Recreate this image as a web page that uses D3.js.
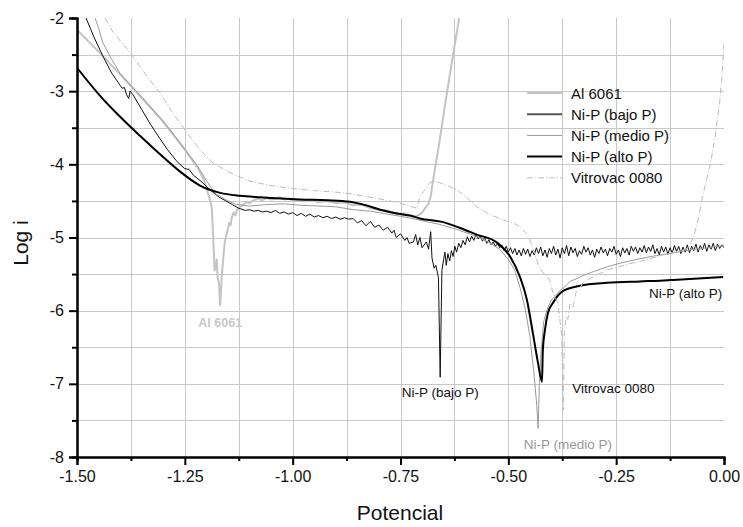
<!DOCTYPE html>
<html>
<head>
<meta charset="utf-8">
<script src="https://cdn.jsdelivr.net/npm/d3@7"></script>
<style>
  body { margin: 0; background: #fff; }
  svg text { font-family: "Liberation Sans", Arial, sans-serif; }
</style>
</head>
<body>
<div id="chart"></div>
<script>
// ---- data (Potencial, Log i) ----
var xTicks = [-1.50, -1.25, -1.00, -0.75, -0.50, -0.25, 0.00];
var yTicks = [-8, -7, -6, -5, -4, -3, -2];
var seriesNames = ["Al 6061", "Ni-P (bajo P)", "Ni-P (medio P)", "Ni-P (alto P)", "Vitrovac 0080"];

var al6061 = [[-1.500,-2.16],[-1.45,-2.46],[-1.40,-2.77],[-1.35,-3.09],[-1.30,-3.42],[-1.25,-3.80],
  [-1.22,-4.05],[-1.205,-4.22],[-1.196,-4.40],[-1.190,-4.52],[-1.187,-4.62],[-1.185,-4.90],[-1.181,-5.45],
  [-1.178,-5.40],[-1.176,-5.30],[-1.174,-5.55],[-1.171,-5.62],[-1.168,-5.93],[-1.164,-5.50],[-1.160,-5.22],
  [-1.157,-5.05],[-1.153,-4.95],[-1.150,-4.88],[-1.147,-4.80],[-1.144,-4.83],[-1.141,-4.72],[-1.137,-4.66],
  [-1.133,-4.70],[-1.129,-4.62],[-1.122,-4.58],[-1.115,-4.55],[-1.108,-4.52],[-1.10,-4.53],[-1.09,-4.49],
  [-1.08,-4.47],[-1.07,-4.49],[-1.06,-4.46],[-1.05,-4.48],[-1.04,-4.47],[-1.03,-4.45],[-1.02,-4.48],
  [-1.01,-4.47],[-1.00,-4.49],[-0.98,-4.50],[-0.96,-4.48],[-0.94,-4.52],[-0.92,-4.50],[-0.90,-4.53],
  [-0.88,-4.52],[-0.86,-4.56],[-0.84,-4.55],[-0.82,-4.60],[-0.80,-4.62],[-0.78,-4.63],[-0.76,-4.68],
  [-0.74,-4.67],[-0.72,-4.72],[-0.71,-4.70],[-0.70,-4.66],[-0.693,-4.60],[-0.685,-4.54],[-0.680,-4.44],
  [-0.675,-4.24],[-0.66,-3.70],[-0.642,-3.01],[-0.628,-2.50],[-0.614,-2.0]];

var bajoP = [[-1.479,-2.0],[-1.46,-2.27],[-1.44,-2.52],[-1.42,-2.75],[-1.40,-2.92],[-1.395,-2.96],
  [-1.39,-2.95],[-1.385,-3.05],[-1.38,-3.10],[-1.377,-3.00],[-1.37,-3.05],[-1.35,-3.25],[-1.33,-3.45],
  [-1.31,-3.63],[-1.29,-3.80],[-1.27,-3.95],[-1.25,-4.06],[-1.24,-4.07],[-1.23,-4.15],[-1.215,-4.22],
  [-1.20,-4.30],[-1.185,-4.38],[-1.17,-4.45],[-1.155,-4.50],[-1.14,-4.55],[-1.125,-4.60],[-1.11,-4.63],
  [-1.10,-4.62],[-1.09,-4.64],[-1.08,-4.63],[-1.07,-4.65],[-1.06,-4.64],[-1.05,-4.66],[-1.04,-4.63],
  [-1.03,-4.67],[-1.02,-4.65],[-1.01,-4.68],[-1.00,-4.66],[-0.99,-4.70],[-0.98,-4.67],[-0.97,-4.71],
  [-0.96,-4.68],[-0.95,-4.72],[-0.94,-4.70],[-0.93,-4.73],[-0.92,-4.71],[-0.91,-4.74],[-0.90,-4.72],
  [-0.89,-4.75],[-0.88,-4.73],[-0.87,-4.75],[-0.86,-4.74],[-0.85,-4.80],[-0.84,-4.77],[-0.83,-4.84],
  [-0.82,-4.78],[-0.81,-4.86],[-0.80,-4.83],[-0.79,-4.90],[-0.78,-4.86],[-0.77,-4.94],[-0.765,-4.90],
  [-0.76,-5.00],[-0.75,-4.95],[-0.74,-5.04],[-0.735,-5.00],[-0.73,-5.08],[-0.72,-5.06],[-0.715,-4.96],
  [-0.71,-5.10],[-0.705,-5.00],[-0.70,-5.14],[-0.69,-5.06],[-0.685,-5.16],[-0.68,-4.92],[-0.677,-5.28],
  [-0.672,-5.42],[-0.668,-5.38],[-0.662,-5.55],[-0.658,-6.91],[-0.654,-5.45],[-0.650,-5.30],[-0.647,-5.20],
  [-0.644,-5.38],[-0.640,-5.22],[-0.636,-5.32],[-0.632,-5.18],[-0.628,-5.26],[-0.624,-5.12],[-0.62,-5.20],
  [-0.615,-5.08],[-0.61,-5.14],[-0.605,-5.04],[-0.60,-5.10],[-0.595,-4.99],[-0.59,-5.06],[-0.585,-4.98],
  [-0.58,-5.04],[-0.575,-4.96],[-0.57,-5.02],[-0.565,-4.98],[-0.56,-5.05],[-0.555,-5.00],[-0.55,-5.08],
  [-0.545,-5.03],[-0.54,-5.10],[-0.535,-5.06],[-0.53,-5.12],[-0.525,-5.08],[-0.52,-5.14],[-0.515,-5.10],
  [-0.51,-5.18],[-0.505,-5.12],[-0.50,-5.20],[-0.495,-5.14],[-0.49,-5.22],[-0.485,-5.15],[-0.48,-5.24],
  [-0.475,-5.17],[-0.47,-5.25],[-0.465,-5.15],[-0.46,-5.23],[-0.455,-5.16],[-0.45,-5.26],[-0.445,-5.18],
  [-0.44,-5.24],[-0.435,-5.14],[-0.43,-5.22],[-0.425,-5.13],[-0.42,-5.25],[-0.415,-5.17],[-0.41,-5.27],
  [-0.405,-5.15],[-0.40,-5.22],[-0.395,-5.12],[-0.39,-5.24],[-0.385,-5.16],[-0.38,-5.28],[-0.375,-5.14],
  [-0.37,-5.22],[-0.365,-5.11],[-0.36,-5.25],[-0.355,-5.13],[-0.35,-5.21],[-0.345,-5.15],[-0.34,-5.26],
  [-0.335,-5.18],[-0.33,-5.23],[-0.325,-5.12],[-0.32,-5.20],[-0.315,-5.14],[-0.31,-5.24],[-0.305,-5.17],
  [-0.30,-5.27],[-0.295,-5.16],[-0.29,-5.22],[-0.285,-5.13],[-0.28,-5.21],[-0.275,-5.16],[-0.27,-5.25],
  [-0.265,-5.15],[-0.26,-5.20],[-0.255,-5.12],[-0.25,-5.23],[-0.245,-5.17],[-0.24,-5.26],[-0.235,-5.14],
  [-0.23,-5.21],[-0.225,-5.15],[-0.22,-5.24],[-0.215,-5.12],[-0.21,-5.19],[-0.205,-5.13],[-0.20,-5.22],
  [-0.195,-5.14],[-0.19,-5.20],[-0.185,-5.11],[-0.18,-5.21],[-0.175,-5.13],[-0.17,-5.19],[-0.165,-5.10],
  [-0.16,-5.22],[-0.155,-5.15],[-0.15,-5.24],[-0.145,-5.12],[-0.14,-5.20],[-0.135,-5.13],[-0.13,-5.23],
  [-0.125,-5.14],[-0.12,-5.21],[-0.115,-5.11],[-0.11,-5.19],[-0.105,-5.12],[-0.10,-5.22],[-0.095,-5.13],
  [-0.09,-5.20],[-0.085,-5.10],[-0.08,-5.21],[-0.075,-5.12],[-0.07,-5.18],[-0.065,-5.09],[-0.06,-5.20],
  [-0.055,-5.11],[-0.05,-5.17],[-0.045,-5.08],[-0.04,-5.19],[-0.035,-5.10],[-0.03,-5.16],[-0.025,-5.08],
  [-0.02,-5.18],[-0.015,-5.09],[-0.01,-5.15],[-0.005,-5.10],[0.00,-5.14]];

var medioP = [[-1.458,-2.0],[-1.45,-2.14],[-1.44,-2.34],[-1.42,-2.56],[-1.40,-2.76],[-1.35,-3.08],
  [-1.30,-3.41],[-1.25,-3.79],[-1.22,-4.03],[-1.20,-4.22],[-1.18,-4.40],[-1.15,-4.50],[-1.13,-4.55],
  [-1.10,-4.57],[-1.06,-4.55],[-1.02,-4.54],[-0.98,-4.56],[-0.94,-4.57],[-0.90,-4.58],[-0.86,-4.62],
  [-0.82,-4.64],[-0.78,-4.68],[-0.74,-4.72],[-0.70,-4.77],[-0.66,-4.82],[-0.62,-4.89],[-0.58,-4.97],
  [-0.55,-5.05],[-0.52,-5.16],[-0.50,-5.30],[-0.485,-5.45],[-0.473,-5.68],[-0.461,-5.97],[-0.450,-6.35],
  [-0.440,-6.90],[-0.434,-7.30],[-0.431,-7.61],[-0.428,-7.00],[-0.424,-6.55],[-0.418,-6.15],[-0.410,-5.98],
  [-0.400,-5.85],[-0.39,-5.80],[-0.38,-5.72],[-0.37,-5.68],[-0.357,-5.60],[-0.34,-5.56],[-0.327,-5.52],
  [-0.30,-5.46],[-0.271,-5.40],[-0.24,-5.35],[-0.195,-5.29],[-0.16,-5.25],[-0.118,-5.21],[-0.08,-5.17],
  [-0.04,-5.14],[0.00,-5.11]];

var altoP = [[-1.500,-2.68],[-1.447,-3.06],[-1.400,-3.35],[-1.354,-3.61],[-1.308,-3.86],[-1.261,-4.10],
  [-1.215,-4.29],[-1.168,-4.39],[-1.122,-4.43],[-1.076,-4.45],[-0.983,-4.48],[-0.92,-4.49],
  [-0.867,-4.51],[-0.83,-4.56],[-0.797,-4.62],[-0.751,-4.68],[-0.728,-4.70],[-0.705,-4.74],[-0.651,-4.79],
  [-0.612,-4.87],[-0.573,-4.96],[-0.526,-5.07],[-0.496,-5.26],[-0.473,-5.54],[-0.457,-5.85],[-0.443,-6.31],
  [-0.431,-6.72],[-0.422,-6.97],[-0.420,-6.54],[-0.415,-6.26],[-0.408,-6.03],[-0.396,-5.89],[-0.373,-5.73],
  [-0.334,-5.66],[-0.271,-5.62],[-0.195,-5.60],[-0.148,-5.59],[-0.118,-5.58],[-0.06,-5.56],[-0.002,-5.54]];

var vitrovac = [[-1.435,-2.0],[-1.417,-2.19],[-1.39,-2.38],[-1.37,-2.53],[-1.34,-2.78],[-1.308,-3.02],
  [-1.28,-3.28],[-1.245,-3.57],[-1.215,-3.80],[-1.185,-3.98],[-1.15,-4.10],[-1.10,-4.23],[-1.05,-4.29],
  [-1.00,-4.33],[-0.95,-4.36],[-0.90,-4.38],[-0.867,-4.40],[-0.83,-4.44],[-0.80,-4.47],[-0.751,-4.53],
  [-0.712,-4.60],[-0.705,-4.44],[-0.695,-4.36],[-0.682,-4.25],[-0.670,-4.23],[-0.645,-4.28],[-0.619,-4.35],
  [-0.595,-4.46],[-0.573,-4.58],[-0.545,-4.68],[-0.512,-4.76],[-0.490,-4.80],[-0.473,-4.85],[-0.460,-4.93],
  [-0.450,-5.03],[-0.44,-5.20],[-0.43,-5.38],[-0.42,-5.48],[-0.41,-5.52],[-0.403,-5.60],[-0.397,-5.75],
  [-0.392,-5.81],[-0.385,-5.90],[-0.38,-6.15],[-0.376,-6.35],[-0.373,-7.36],[-0.370,-6.30],[-0.366,-6.08],
  [-0.362,-6.12],[-0.357,-5.90],[-0.35,-5.95],[-0.343,-5.75],[-0.335,-5.70],[-0.327,-5.62],[-0.31,-5.56],
  [-0.29,-5.50],[-0.27,-5.44],[-0.25,-5.41],[-0.22,-5.36],[-0.19,-5.32],[-0.16,-5.27],[-0.13,-5.22],
  [-0.11,-5.20],[-0.09,-5.16],[-0.08,-5.12],[-0.07,-4.98],[-0.06,-4.75],[-0.05,-4.45],[-0.04,-4.20],
  [-0.03,-3.95],[-0.02,-3.60],[-0.01,-3.15],[-0.004,-2.75],[0.0,-2.34]];

// annotation labels near each curve: [text, potential, log i]
var notes = [["Al 6061", -1.168, -6.23], ["Ni-P (bajo P)", -0.658, -7.18],
  ["Ni-P (medio P)", -0.362, -7.89], ["Ni-P (alto P)", -0.004, -5.83], ["Vitrovac 0080", -0.352, -7.13]];

// ---- layout ----
var W = 743, H = 527;
var x = d3.scaleLinear().domain([-1.5, 0]).range([77, 724]);
var y = d3.scaleLinear().domain([-8, -2]).range([457, 18]);

var svg = d3.select("#chart").append("svg").attr("width", W).attr("height", H);

svg.append("clipPath").attr("id", "plot").append("rect")
  .attr("x", 77).attr("y", 18).attr("width", 647).attr("height", 439);

// grid
var gx = d3.range(-1.375, 0, 0.125);
var gy = d3.range(-7.5, -2, 0.5);
svg.append("g").selectAll("line").data(gx).join("line")
  .attr("x1", function(d){ return Math.round(x(d)) + 0.5; })
  .attr("x2", function(d){ return Math.round(x(d)) + 0.5; })
  .attr("y1", 18).attr("y2", 457)
  .attr("stroke", "#c8c8c8").attr("stroke-width", 1);
svg.append("g").selectAll("line").data(gy).join("line")
  .attr("y1", function(d){ return Math.round(y(d)) + 0.5; })
  .attr("y2", function(d){ return Math.round(y(d)) + 0.5; })
  .attr("x1", 77).attr("x2", 724)
  .attr("stroke", "#c8c8c8").attr("stroke-width", 1);

// series
var line = d3.line().x(function(d){ return x(d[0]); }).y(function(d){ return y(d[1]); });
var smooth = d3.line().curve(d3.curveMonotoneX)
  .x(function(d){ return x(d[0]); }).y(function(d){ return y(d[1]); });

var styles = [
  { data: al6061, stroke: "#c4c4c4", width: 2, dash: null, gen: line },
  { data: bajoP, stroke: "#111", width: 1, dash: null, gen: line },
  { data: medioP, stroke: "#9a9a9a", width: 1, dash: null, gen: line },
  { data: altoP, stroke: "#000", width: 2, dash: null, gen: smooth },
  { data: vitrovac, stroke: "#bcbcbc", width: 1, dash: "6,2,1,2", gen: line }
];

var plot = svg.append("g").attr("clip-path", "url(#plot)");
styles.forEach(function(s){
  plot.append("path").datum(s.data)
    .attr("d", s.gen)
    .attr("fill", "none")
    .attr("stroke", s.stroke)
    .attr("stroke-width", s.width)
    .attr("stroke-dasharray", s.dash)
    .attr("stroke-linejoin", "round");
});

// axes (plain hyphen as minus sign, like the original)
var fmt2 = function(d){ return d3.format(".2f")(d).replace("\u2212", "-"); };
var fmt0 = function(d){ return String(d); };
var xAxis = d3.axisBottom(x).tickValues(xTicks).tickFormat(fmt2).tickSize(8).tickPadding(6);
var xMinor = d3.axisBottom(x).tickValues(d3.range(-1.375, 0, 0.25)).tickFormat("").tickSize(4);
var yAxis = d3.axisLeft(y).tickValues(yTicks).tickFormat(fmt0).tickSize(8).tickPadding(5);
var yMinor = d3.axisLeft(y).tickValues(d3.range(-7.5, -2, 1)).tickFormat("").tickSize(5);

function styleAxis(g){
  g.attr("font-family", null);
  g.select(".domain").attr("stroke", "#000").attr("stroke-width", 2);
  g.selectAll(".tick line").attr("stroke", "#000").attr("stroke-width", 2);
  g.selectAll(".tick text").attr("font-size", 16).attr("fill", "#111");
}

svg.append("g").attr("transform", "translate(0,457)").call(xMinor).call(styleAxis);
svg.append("g").attr("transform", "translate(0,457)").call(xAxis).call(styleAxis);
svg.append("g").attr("transform", "translate(77,0)").call(yMinor).call(styleAxis);
svg.append("g").attr("transform", "translate(77,0)").call(yAxis).call(styleAxis);

// axis titles
svg.append("text").attr("x", 400).attr("y", 520).attr("text-anchor", "middle")
  .attr("font-size", 21).attr("fill", "#111").text("Potencial");
svg.append("text").attr("transform", "translate(28,243) rotate(-90)").attr("text-anchor", "middle")
  .attr("font-size", 21).attr("fill", "#111").text("Log i");

// legend
var leg = svg.append("g").attr("transform", "translate(527,93)");
styles.forEach(function(s, i){
  leg.append("line").attr("x1", 0).attr("x2", 35).attr("y1", i * 21.2).attr("y2", i * 21.2)
    .attr("stroke", i == 1 ? "#555" : s.stroke)
    .attr("stroke-width", i == 1 ? 2 : s.width)
    .attr("stroke-dasharray", s.dash);
  leg.append("text").attr("x", 44).attr("y", i * 21.2 + 5.5)
    .attr("font-size", 15).attr("fill", "#111").text(seriesNames[i]);
});

// curve annotations
var noteStyle = [
  { anchor: "middle", color: "#c8c8c8", weight: "bold", size: 12.5 },
  { anchor: "middle", color: "#111", weight: "normal", size: 13.5 },
  { anchor: "middle", color: "#999", weight: "normal", size: 13.5 },
  { anchor: "end", color: "#111", weight: "normal", size: 13.5 },
  { anchor: "start", color: "#111", weight: "normal", size: 13.5 }
];
notes.forEach(function(n, i){
  svg.append("text").attr("x", x(n[1])).attr("y", y(n[2]))
    .attr("text-anchor", noteStyle[i].anchor)
    .attr("font-size", noteStyle[i].size)
    .attr("font-weight", noteStyle[i].weight)
    .attr("fill", noteStyle[i].color)
    .text(n[0]);
});
</script>
</body>
</html>
